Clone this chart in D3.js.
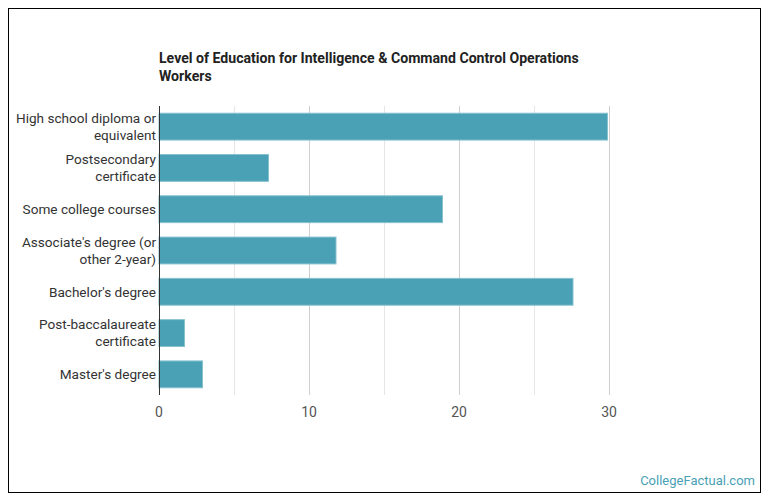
<!DOCTYPE html>
<html>
<head>
<meta charset="utf-8">
<script src="https://cdn.jsdelivr.net/npm/d3@7"></script>
<style>
  html, body { margin: 0; padding: 0; background: #fff; }
  svg { display: block; font-family: Roboto, "Noto Sans", sans-serif; }
</style>
</head>
<body>
<svg id="chart" width="770" height="503"></svg>
<script>
const categories = [
  "High school diploma or|equivalent",
  "Postsecondary|certificate",
  "Some college courses",
  "Associate's degree (or|other 2-year)",
  "Bachelor's degree",
  "Post-baccalaureate|certificate",
  "Master's degree"
];
const values = [29.9, 7.3, 18.9, 11.8, 27.6, 1.7, 2.9];
const xTicks = [0, 10, 20, 30];
const gridTicks = [0, 5, 10, 15, 20, 25, 30];
const titleLines = ["Level of Education for Intelligence & Command Control Operations", "Workers"];
const credit = "CollegeFactual.com";

const svg = d3.select("#chart");

// frame
svg.append("rect")
  .attr("x", 8.5).attr("y", 8.5)
  .attr("width", 752).attr("height", 484)
  .attr("fill", "#fff").attr("stroke", "#000").attr("stroke-width", 1);

const pLeft = 159, pRight = 609, pTop = 106, pBottom = 395;

const x = d3.scaleLinear().domain([0, 30]).range([pLeft, pRight]);
const y = d3.scaleBand().domain(categories).range([pTop, pBottom])
  .paddingInner(0.35).paddingOuter(0.175);

// title
const title = svg.append("text")
  .attr("x", pLeft).attr("y", 63)
  .attr("font-size", 14.1).attr("font-weight", "bold").attr("fill", "#222");
titleLines.forEach((t, i) => {
  title.append("tspan").attr("x", pLeft).attr("dy", i === 0 ? 0 : 18).text(t);
});

// gridlines
svg.append("g").selectAll("line").data(gridTicks.filter(d => d > 0)).join("line")
  .attr("x1", d => x(d) + 0.5).attr("x2", d => x(d) + 0.5)
  .attr("y1", pTop).attr("y2", pBottom)
  .attr("stroke", d => d % 10 === 0 ? "#cfcfcf" : "#e6e6e6").attr("stroke-width", 1);

// bars
svg.append("g").selectAll("rect").data(values).join("rect")
  .attr("x", x(0))
  .attr("y", (d, i) => y(categories[i]))
  .attr("width", d => x(d) - x(0))
  .attr("height", y.bandwidth())
  .attr("fill", "#4aa0b4")
  .attr("stroke", "#86c1cf").attr("stroke-width", 1);

// y axis line
svg.append("line")
  .attr("x1", pLeft + 0.5).attr("x2", pLeft + 0.5)
  .attr("y1", pTop).attr("y2", pBottom)
  .attr("stroke", "#333").attr("stroke-width", 1);

// y labels
const lineH = 17;
categories.forEach(c => {
  const lines = c.split("|");
  const cy = y(c) + y.bandwidth() / 2;
  const t = svg.append("text")
    .attr("text-anchor", "end")
    .attr("font-size", 13.6).attr("fill", "#333");
  lines.forEach((l, i) => {
    t.append("tspan")
      .attr("x", pLeft - 3)
      .attr("y", cy + (i - (lines.length - 1) / 2) * lineH)
      .attr("dy", "0.35em")
      .text(l);
  });
});

// x tick labels
svg.append("g").selectAll("text").data(xTicks).join("text")
  .attr("x", d => x(d))
  .attr("y", 417)
  .attr("text-anchor", "middle")
  .attr("font-size", 14).attr("fill", "#555")
  .text(d => d);

// credit
svg.append("text")
  .attr("x", 755).attr("y", 485)
  .attr("text-anchor", "end")
  .attr("font-size", 13).attr("fill", "#4a9fb5")
  .text(credit);
</script>
</body>
</html>
